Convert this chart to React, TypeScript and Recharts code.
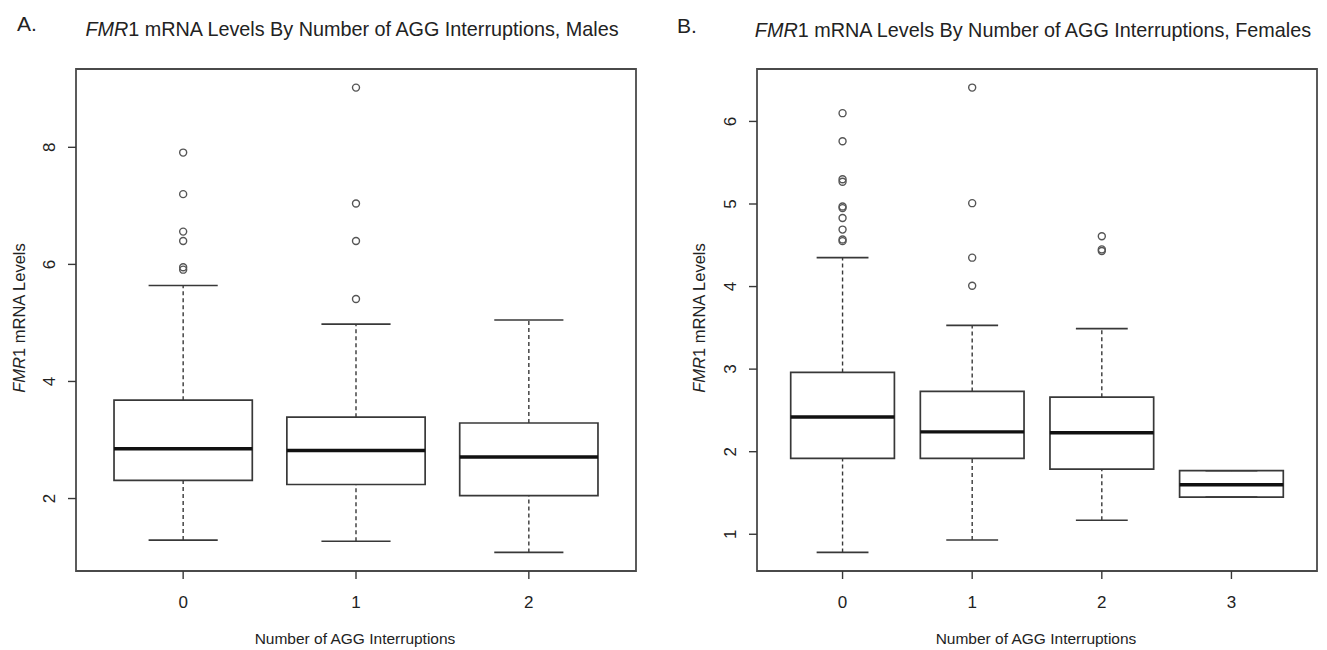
import React from "react";
import {
  ComposedChart,
  Scatter,
  XAxis,
  YAxis,
  ReferenceArea,
  ReferenceLine
} from "recharts";

// Panel A: males
const maleGroups = [0, 1, 2];
const maleQ1 = [2.31, 2.24, 2.05];
const maleMedian = [2.85, 2.82, 2.71];
const maleQ3 = [3.68, 3.39, 3.29];
const maleLow = [1.29, 1.27, 1.08];
const maleHigh = [5.64, 4.98, 5.05];
const maleOutliers = [
  [7.91, 7.2, 6.56, 6.4, 5.95, 5.91],
  [9.02, 7.04, 6.4, 5.41],
  []
];
const maleYTicks = [2, 4, 6, 8];

// Panel B: females
const femaleGroups = [0, 1, 2, 3];
const femaleQ1 = [1.92, 1.92, 1.79, 1.45];
const femaleMedian = [2.42, 2.24, 2.23, 1.6];
const femaleQ3 = [2.96, 2.73, 2.66, 1.77];
const femaleLow = [0.78, 0.93, 1.17, 1.45];
const femaleHigh = [4.35, 3.53, 3.49, 1.77];
const femaleOutliers = [
  [6.1, 5.76, 5.3, 5.27, 4.97, 4.95, 4.83, 4.69, 4.57, 4.55],
  [6.41, 5.01, 4.35, 4.01],
  [4.61, 4.45, 4.43],
  []
];
const femaleYTicks = [1, 2, 3, 4, 5, 6];

const FONT = '"Liberation Sans", Arial, sans-serif';
const INK = "#222";
const LINE = "#383838";

type PanelProps = {
  groups: number[];
  q1: number[];
  median: number[];
  q3: number[];
  low: number[];
  high: number[];
  outliers: number[][];
  yTicks: number[];
  yDomain: [number, number];
  width: number;
  marginRight: number;
};

function BoxPanel(p: PanelProps) {
  const n = p.groups.length;
  // R pads the x range by 4% on each side
  const ext = 0.04 * n;
  const xDomain: [number, number] = [-0.5 - ext, n - 0.5 + ext];
  const points = p.groups.flatMap((g, i) =>
    p.outliers[i].map((v) => ({ x: g, y: v }))
  );

  return (
    <ComposedChart
      width={p.width}
      height={650}
      margin={{ top: 69, right: p.marginRight, bottom: 49, left: 0 }}
    >
      <XAxis
        type="number"
        dataKey="x"
        domain={xDomain}
        ticks={p.groups}
        interval={0}
        allowDataOverflow
        axisLine={false}
        tickSize={8}
        tickLine={{ stroke: LINE, strokeWidth: 1.4 }}
        height={30}
        tick={(t: any) => (
          <text
            x={t.x}
            y={t.y + 21}
            textAnchor="middle"
            dominantBaseline="central"
            fontFamily={FONT}
            fontSize={17}
            fill={INK}
          >
            {t.payload.value}
          </text>
        )}
      />
      <YAxis
        type="number"
        dataKey="y"
        domain={p.yDomain}
        ticks={p.yTicks}
        interval={0}
        allowDataOverflow
        axisLine={false}
        tickSize={8}
        tickLine={{ stroke: LINE, strokeWidth: 1.4 }}
        width={76}
        tick={(t: any) => (
          <text
            x={t.x - 16}
            y={t.y}
            transform={`rotate(-90 ${t.x - 16} ${t.y})`}
            textAnchor="middle"
            dominantBaseline="central"
            fontFamily={FONT}
            fontSize={17}
            fill={INK}
          >
            {t.payload.value}
          </text>
        )}
      />
      {/* plot frame */}
      <ReferenceArea
        x1={xDomain[0]}
        x2={xDomain[1]}
        y1={p.yDomain[0]}
        y2={p.yDomain[1]}
        ifOverflow="visible"
        fill="none"
        stroke="#4a4a4a"
        strokeWidth={1.8}
      />
      {p.groups.map((g, i) => (
        <React.Fragment key={g}>
          <ReferenceLine
            segment={[{ x: g, y: p.q3[i] }, { x: g, y: p.high[i] }]}
            stroke={LINE}
            strokeWidth={1.4}
            strokeDasharray="4 3"
            ifOverflow="visible"
          />
          <ReferenceLine
            segment={[{ x: g, y: p.low[i] }, { x: g, y: p.q1[i] }]}
            stroke={LINE}
            strokeWidth={1.4}
            strokeDasharray="4 3"
            ifOverflow="visible"
          />
          <ReferenceLine
            segment={[{ x: g - 0.2, y: p.high[i] }, { x: g + 0.2, y: p.high[i] }]}
            stroke={LINE}
            strokeWidth={1.6}
            ifOverflow="visible"
          />
          <ReferenceLine
            segment={[{ x: g - 0.2, y: p.low[i] }, { x: g + 0.2, y: p.low[i] }]}
            stroke={LINE}
            strokeWidth={1.6}
            ifOverflow="visible"
          />
          <ReferenceArea
            x1={g - 0.4}
            x2={g + 0.4}
            y1={p.q1[i]}
            y2={p.q3[i]}
            ifOverflow="visible"
            fill="#fff"
            fillOpacity={1}
            stroke={LINE}
            strokeWidth={1.7}
          />
          <ReferenceLine
            segment={[{ x: g - 0.4, y: p.median[i] }, { x: g + 0.4, y: p.median[i] }]}
            stroke="#111"
            strokeWidth={3.4}
            ifOverflow="visible"
          />
        </React.Fragment>
      ))}
      <Scatter
        data={points}
        isAnimationActive={false}
        shape={(s: any) => (
          <circle
            cx={s.cx}
            cy={s.cy}
            r={3.5}
            fill="none"
            stroke="#555"
            strokeWidth={1.4}
          />
        )}
      />
    </ComposedChart>
  );
}

function Txt(props: {
  x: number;
  y: number;
  size: number;
  rotate?: boolean;
  children: React.ReactNode;
}) {
  return (
    <div
      style={{
        position: "absolute",
        left: props.x,
        top: props.y,
        transform: `translate(-50%, -50%)${props.rotate ? " rotate(-90deg)" : ""}`,
        fontFamily: FONT,
        fontSize: props.size,
        color: INK,
        whiteSpace: "nowrap",
        lineHeight: 1
      }}
    >
      {props.children}
    </div>
  );
}

export default function App() {
  return (
    <div
      style={{
        position: "absolute",
        left: 0,
        top: 0,
        width: 1327,
        height: 650,
        overflow: "hidden",
        background: "#fff"
      }}
    >
      <div style={{ position: "absolute", left: 0, top: 0 }}>
        <BoxPanel
          groups={maleGroups}
          q1={maleQ1}
          median={maleMedian}
          q3={maleQ3}
          low={maleLow}
          high={maleHigh}
          outliers={maleOutliers}
          yTicks={maleYTicks}
          yDomain={[0.762, 9.338]}
          width={660}
          marginRight={24}
        />
      </div>
      <div style={{ position: "absolute", left: 681, top: 0 }}>
        <BoxPanel
          groups={femaleGroups}
          q1={femaleQ1}
          median={femaleMedian}
          q3={femaleQ3}
          low={femaleLow}
          high={femaleHigh}
          outliers={femaleOutliers}
          yTicks={femaleYTicks}
          yDomain={[0.555, 6.635]}
          width={646}
          marginRight={10}
        />
      </div>

      <Txt x={27} y={23} size={21}>A.</Txt>
      <Txt x={352} y={30} size={19.8}>
        <i>FMR</i>1 mRNA Levels By Number of AGG Interruptions, Males
      </Txt>
      <Txt x={19} y={318} size={16.5} rotate>
        <i>FMR</i>1 mRNA Levels
      </Txt>
      <Txt x={355} y={639} size={15.5}>Number of AGG Interruptions</Txt>

      <Txt x={687} y={25} size={21}>B.</Txt>
      <Txt x={1033} y={31} size={19.8}>
        <i>FMR</i>1 mRNA Levels By Number of AGG Interruptions, Females
      </Txt>
      <Txt x={699} y={318} size={16.5} rotate>
        <i>FMR</i>1 mRNA Levels
      </Txt>
      <Txt x={1036} y={639} size={15.5}>Number of AGG Interruptions</Txt>
    </div>
  );
}
